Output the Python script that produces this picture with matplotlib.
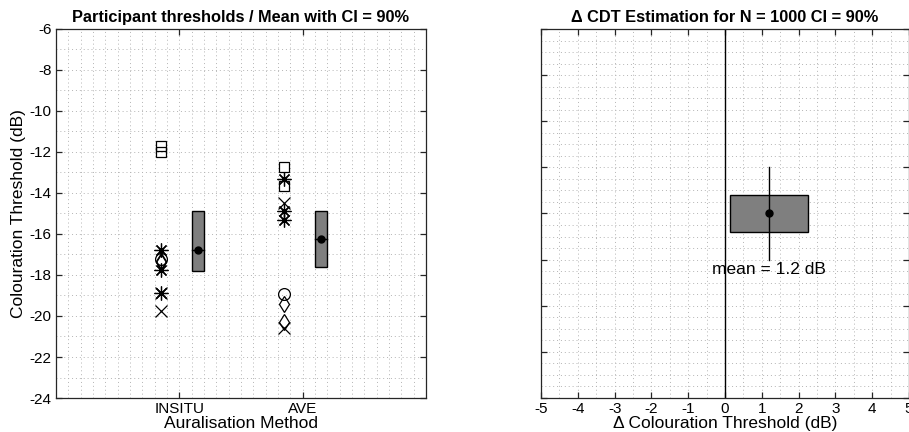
import matplotlib
matplotlib.use('Agg')
import matplotlib.pyplot as plt
from matplotlib.ticker import MultipleLocator, NullFormatter

plt.rcParams['font.family'] = ['Liberation Sans', 'DejaVu Sans']
plt.rcParams['axes.unicode_minus'] = False

# participant thresholds (dB) per auralisation method
methods = ['INSITU', 'AVE']
markers = ['s', 's', 'o', 'd', 'd', 'ast', 'ast', 'ast', 'x', 'x']
insitu = [-11.7, -12.0, -17.2, -17.35, -17.3, -16.8, -17.75, -18.9, -18.9, -19.75]
ave = [-12.75, -13.65, -18.95, -19.4, -20.3, -13.3, -15.3, -14.9, -14.5, -20.6]

# mean and CI per method
means = [-16.78, -16.24]
ci_low = [-17.79, -17.61]
ci_high = [-14.86, -14.88]

# delta CDT estimation
delta_mean = 1.2
delta_ci = [0.14, 2.26]

ASTERISK = (8, 2, 0)
GRID = dict(linestyle=(0, (1, 3)), color='#b4b4b4', linewidth=0.7)

fig = plt.figure(figsize=(9.09, 4.32), dpi=100)
ax1 = fig.add_axes([0.0616, 0.0787, 0.407, 0.8542])
ax2 = fig.add_axes([0.5952, 0.0787, 0.4048, 0.8542])


def style_axes(ax):
    for s in ax.spines.values():
        s.set_color('#262626')
        s.set_linewidth(0.9)
    ax.tick_params(which='major', direction='in', length=4, width=0.9,
                   top=True, right=True, labelsize=11, pad=3,
                   colors='#262626', labelcolor='black')
    ax.tick_params(which='minor', length=0)
    ax.grid(which='both', **GRID)
    ax.set_axisbelow(True)


# ---- left: participant thresholds
for i, (m, a, b) in enumerate(zip(markers, insitu, ave)):
    mk = ASTERISK if m == 'ast' else m
    size = {'s': 7, 'o': 8.5, 'd': 8, 'x': 8.5}.get(m, 10)
    ax1.plot([0.85, 1.85], [a, b], linestyle='none', marker=mk, markersize=size,
             markerfacecolor='none', markeredgecolor='black', markeredgewidth=0.9)

box_w = 0.1
for k, x in enumerate([1.15, 2.15]):
    ax1.bar(x, ci_high[k] - ci_low[k], bottom=ci_low[k], width=box_w,
            color='#7f7f7f', edgecolor='black', linewidth=1.0, zorder=3)
    ax1.plot([x - box_w / 2, x + box_w / 2], [means[k], means[k]],
             color='black', linewidth=1.0, zorder=4)
    ax1.plot(x, means[k], 'o', color='black', markersize=5, zorder=5)

ax1.set_xlim(0, 3)
ax1.set_ylim(-24, -6)
ax1.set_xticks([1, 2])
ax1.set_xticklabels(methods)
ax1.set_yticks(range(-24, -5, 2))
ax1.xaxis.set_minor_locator(MultipleLocator(0.1))
ax1.yaxis.set_minor_locator(MultipleLocator(1))
style_axes(ax1)
ax1.set_xlabel('Auralisation Method', fontsize=12.5, labelpad=0)
ax1.set_ylabel('Colouration Threshold (dB)', fontsize=12.5, labelpad=3)
ax1.set_title('Participant thresholds / Mean with CI = 90%', fontsize=11.8,
              fontweight='bold', pad=5)

# ---- right: delta CDT estimation
ax2.axvline(0, color='black', linewidth=1.0, zorder=2)
ax2.barh(4, delta_ci[1] - delta_ci[0], left=delta_ci[0], height=0.8,
         color='#7f7f7f', edgecolor='black', linewidth=1.0, zorder=3)
ax2.plot([delta_mean, delta_mean], [3, 5], color='black', linewidth=1.0, zorder=4)
ax2.plot(delta_mean, 4, 'o', color='black', markersize=5, zorder=5)
ax2.text(delta_mean, 2.95, f'mean = {delta_mean} dB', ha='center', va='top',
         fontsize=12.5, zorder=6)

ax2.set_xlim(-5, 5)
ax2.set_ylim(0, 8)
ax2.set_xticks(range(-5, 6))
ax2.set_yticks(range(0, 9))
ax2.yaxis.set_major_formatter(NullFormatter())
ax2.xaxis.set_minor_locator(MultipleLocator(0.5))
ax2.yaxis.set_minor_locator(MultipleLocator(0.25))
style_axes(ax2)
ax2.set_xlabel('Δ Colouration Threshold (dB)', fontsize=12.5, labelpad=0)
ax2.set_title('Δ CDT Estimation for N = 1000 CI = 90%', fontsize=11.8,
              fontweight='bold', pad=5)

fig.savefig('out.png', dpi=100)
